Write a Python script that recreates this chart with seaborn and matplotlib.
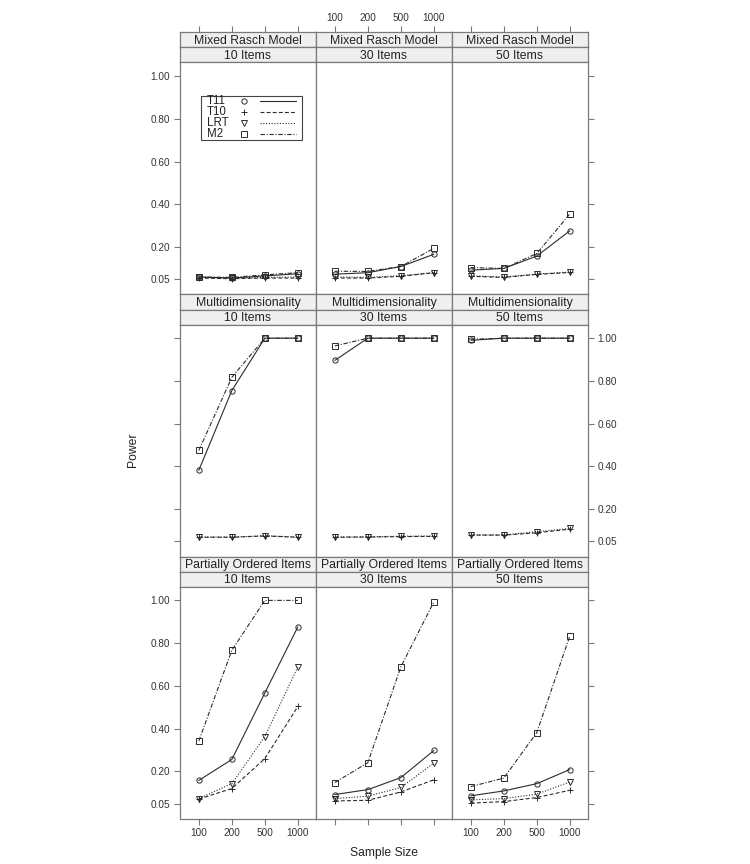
import numpy as np
import pandas as pd
import matplotlib
matplotlib.use('Agg')
import matplotlib.pyplot as plt
from matplotlib.patches import Rectangle
import seaborn as sns

# ---- data ----
sample_sizes = [100, 200, 500, 1000]
conditions = ['Mixed Rasch Model', 'Multidimensionality', 'Partially Ordered Items']
item_counts = [10, 30, 50]
tests = ['T11', 'T10', 'LRT', 'M2']

# rows: 10 / 30 / 50 items, columns: sample sizes
mixed_t11 = [[0.060, 0.055, 0.065, 0.075], [0.073, 0.080, 0.109, 0.166], [0.092, 0.100, 0.158, 0.276]]
mixed_t10 = [[0.055, 0.052, 0.055, 0.055], [0.055, 0.055, 0.063, 0.080], [0.063, 0.058, 0.072, 0.081]]
mixed_lrt = [[0.058, 0.055, 0.058, 0.060], [0.060, 0.058, 0.066, 0.080], [0.065, 0.060, 0.074, 0.083]]
mixed_m2 = [[0.060, 0.058, 0.070, 0.080], [0.087, 0.086, 0.109, 0.194], [0.104, 0.100, 0.170, 0.355]]

multi_t11 = [[0.382, 0.755, 1.000, 1.000], [0.896, 1.000, 1.000, 1.000], [0.990, 1.000, 1.000, 1.000]]
multi_t10 = [[0.069, 0.069, 0.075, 0.069], [0.069, 0.070, 0.072, 0.073], [0.079, 0.079, 0.090, 0.107]]
multi_lrt = [[0.070, 0.070, 0.076, 0.070], [0.070, 0.071, 0.074, 0.075], [0.080, 0.080, 0.095, 0.110]]
multi_m2 = [[0.475, 0.817, 1.000, 1.000], [0.964, 1.000, 1.000, 1.000], [0.995, 1.000, 1.000, 1.000]]

partial_t11 = [[0.158, 0.256, 0.567, 0.876], [0.092, 0.115, 0.171, 0.298], [0.086, 0.109, 0.143, 0.209]]
partial_t10 = [[0.071, 0.120, 0.260, 0.504], [0.062, 0.065, 0.104, 0.161], [0.052, 0.059, 0.078, 0.112]]
partial_lrt = [[0.073, 0.143, 0.363, 0.689], [0.073, 0.084, 0.125, 0.239], [0.067, 0.073, 0.094, 0.151]]
partial_m2 = [[0.342, 0.767, 1.000, 1.000], [0.148, 0.241, 0.689, 0.993], [0.129, 0.169, 0.382, 0.834]]

values = {
    'Mixed Rasch Model': [mixed_t11, mixed_t10, mixed_lrt, mixed_m2],
    'Multidimensionality': [multi_t11, multi_t10, multi_lrt, multi_m2],
    'Partially Ordered Items': [partial_t11, partial_t10, partial_lrt, partial_m2],
}

rows = []
for cond in conditions:
    for t, test in enumerate(tests):
        for k, n_items in enumerate(item_counts):
            for p, n in enumerate(sample_sizes):
                rows.append({'cond': cond, 'items': n_items, 'test': test,
                             'pos': p + 1, 'n': n, 'power': values[cond][t][k][p]})
df = pd.DataFrame(rows)

# ---- style ----
sns.set_theme(style='white')
plt.rcParams['font.family'] = ['Liberation Sans', 'DejaVu Sans']
FRAME = '#7a7a7a'
INK = '#2b2b2b'
STRIP = '#efefef'
styles = {
    'T11': dict(marker='o', ls='-'),
    'T10': dict(marker='+', ls=(0, (3.5, 2))),
    'LRT': dict(marker='v', ls=(0, (1, 1.5))),
    'M2': dict(marker='s', ls=(0, (4, 1.5, 1, 1.5))),
}
yticks = [0.05, 0.2, 0.4, 0.6, 0.8, 1.0]
XLIM = (0.43, 4.55)
xpos = list(range(1, len(sample_sizes) + 1))
xlabels = [str(n) for n in sample_sizes]
TICKS = dict(length=4, width=0.8, color=FRAME, labelsize=7.2, labelcolor='#333333',
             pad=3, direction='out')

W, H = 750, 864
fig = plt.figure(figsize=(W / 100, H / 100), dpi=100)

def box(x, y, w, h):
    return [x / W, 1 - (y + h) / H, w / W, h / H]

left0, col_w = 180, 136
top0, row_h, strip_h, panel_h = 32.3, 262.2, 15, 232

for i, cond in enumerate(conditions):
    for j, n_items in enumerate(item_counts):
        x0 = left0 + j * col_w
        ytop = top0 + i * row_h
        # strips
        for s, label in enumerate([cond, f'{n_items} Items']):
            sa = fig.add_axes(box(x0, ytop + s * strip_h, col_w, strip_h))
            sa.set_facecolor(STRIP)
            sa.set_xlim(*XLIM)
            sa.set_xticks([]); sa.set_yticks([])
            for sp in sa.spines.values():
                sp.set_color(FRAME); sp.set_linewidth(0.9)
            sa.text(0.5, 0.45, label, ha='center', va='center', fontsize=8.8,
                    color='#222222', transform=sa.transAxes)
            if i == 0 and s == 0:
                # top axis of the first row sits above the strips
                sa.set_xticks(xpos)
                sa.set_xticklabels(xlabels)
                sa.tick_params(axis='x', bottom=False, labelbottom=False, top=True,
                               labeltop=(j == 1), **TICKS)
        ax = fig.add_axes(box(x0, ytop + 2 * strip_h, col_w, panel_h))
        sub = df[(df.cond == cond) & (df['items'] == n_items)]
        for test in tests:
            st = styles[test]
            sns.lineplot(data=sub[sub.test == test], x='pos', y='power', ax=ax,
                         color=INK, linestyle=st['ls'], lw=0.8, marker=st['marker'],
                         markersize=3.8, markerfacecolor='none', markeredgecolor=INK,
                         markeredgewidth=0.7, errorbar=None)
        ax.set_xlim(*XLIM)
        ax.set_ylim(-0.021, 1.064)
        ax.set_xlabel(''); ax.set_ylabel('')
        for sp in ax.spines.values():
            sp.set_color(FRAME); sp.set_linewidth(0.9)

        ax.set_xticks(xpos)
        ax.set_xticklabels(xlabels)
        ax.set_yticks(yticks)
        ax.set_yticklabels([f'{v:.2f}' for v in yticks])
        ax.tick_params(bottom=False, top=False, left=False, right=False,
                       labelbottom=False, labeltop=False, labelleft=False, labelright=False,
                       **TICKS)
        if i == 2:
            ax.tick_params(axis='x', bottom=True, labelbottom=(j != 1))
        if j == 0:
            ax.tick_params(axis='y', left=True, labelleft=(i != 1))
        if j == 2:
            ax.tick_params(axis='y', right=True, labelright=(i == 1))

        if i == 0 and j == 0:
            # lattice-style key: label, symbol, line
            ax.add_patch(Rectangle((0.152, 0.665), 0.743, 0.191, transform=ax.transAxes,
                                   fill=False, edgecolor='#444444', lw=0.8))
            for r, test in enumerate(tests):
                yy = 0.833 - r * 0.048
                st = styles[test]
                ax.text(0.2, yy, test, transform=ax.transAxes, fontsize=8.3,
                        va='center', ha='left', color='#222222')
                ax.plot([0.47], [yy], transform=ax.transAxes, marker=st['marker'],
                        ms=3.8, mfc='none', mec=INK, mew=0.7, ls='none')
                ax.plot([0.59, 0.85], [yy, yy], transform=ax.transAxes, color=INK,
                        lw=0.8, ls=st['ls'])

fig.text(133 / W, 1 - 450 / H, 'Power', rotation=90, ha='center', va='center',
         fontsize=8.7, color='#222222')
fig.text((left0 + 1.5 * col_w) / W, 1 - 853 / H, 'Sample Size', ha='center', va='center',
         fontsize=8.7, color='#222222')

fig.savefig('out.png', dpi=100)
